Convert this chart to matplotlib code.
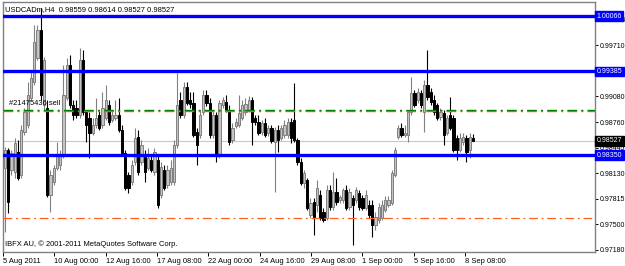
import matplotlib
matplotlib.use("Agg")
import matplotlib.pyplot as plt
import numpy as np

# USDCADm H4, 5 Aug - 8 Sep 2011
opens = [0.98192, 0.98415, 0.98168, 0.98143, 0.98390, 0.98106, 0.98637, 0.98723, 0.99057, 0.99254,
         0.99550, 0.99896, 0.98970, 0.98933, 0.97859, 0.98020, 0.98192, 0.98229, 0.98353, 0.99057,
         0.99464, 0.98970, 0.98933, 0.98847, 0.99526, 0.98884, 0.98810, 0.98624, 0.98723, 0.98847,
         0.98723, 0.98810, 0.98970, 0.98785, 0.98810, 0.98847, 0.98661, 0.98378, 0.98106, 0.98020,
         0.98266, 0.98575, 0.98266, 0.98353, 0.98192, 0.98291, 0.98143, 0.98291, 0.97859, 0.98168,
         0.97983, 0.98020, 0.98020, 0.98476, 0.99032, 0.98847, 0.99192, 0.99032, 0.98995, 0.98637,
         0.98600, 0.98884, 0.99094, 0.98995, 0.98600, 0.98847, 0.98353, 0.98970, 0.99007, 0.98908,
         0.98538, 0.98711, 0.98723, 0.98810, 0.98884, 0.98908, 0.99032, 0.98810, 0.98760, 0.98637,
         0.98748, 0.98624, 0.98686, 0.98513, 0.98661, 0.98563, 0.98600, 0.98600, 0.98760, 0.98785,
         0.98538, 0.98266, 0.98007, 0.98044, 0.97612, 0.97773, 0.97736, 0.97859, 0.97649, 0.97575,
         0.97921, 0.97711, 0.97896, 0.97797, 0.97797, 0.97921, 0.97711, 0.97822, 0.97797, 0.97884,
         0.97822, 0.97699, 0.97736, 0.97736, 0.97489, 0.97550, 0.97575, 0.97674, 0.97736, 0.97760,
         0.98106, 0.98575, 0.98686, 0.98600, 0.98600, 0.98884, 0.99118, 0.99032, 0.99118, 0.98884,
         0.99217, 0.99131, 0.99032, 0.98970, 0.98822, 0.98871, 0.98624, 0.98847, 0.98810, 0.98563,
         0.98415, 0.98513, 0.98563, 0.98415, 0.98559]
highs = [0.98452, 0.98439, 0.98415, 0.98563, 0.98538, 0.98723, 0.98933, 0.99254, 0.99402, 0.99958,
         0.99958, 1.00168, 0.99563, 0.99032, 0.98168, 0.98229, 0.98513, 0.98415, 0.99464, 0.99550,
         0.99587, 0.99032, 0.99032, 0.99674, 0.99649, 0.98908, 0.98884, 0.98810, 0.99057, 0.98908,
         0.99131, 0.99217, 0.99032, 0.98908, 0.99032, 0.99057, 0.98723, 0.98415, 0.98143, 0.98291,
         0.98686, 0.98661, 0.98538, 0.98415, 0.98439, 0.98353, 0.98439, 0.98353, 0.98266, 0.98229,
         0.98229, 0.98291, 0.98538, 0.99365, 0.99131, 0.99254, 0.99254, 0.99131, 0.99131, 0.98686,
         0.98908, 0.99155, 0.99155, 0.99057, 0.98908, 0.98884, 0.99032, 0.99069, 0.99094, 0.98970,
         0.98748, 0.98810, 0.99094, 0.99032, 0.99057, 0.99081, 0.99069, 0.98847, 0.98847, 0.98785,
         0.98810, 0.98723, 0.98723, 0.98699, 0.98723, 0.98723, 0.98785, 0.98810, 0.98810, 0.99242,
         0.98563, 0.98316, 0.98168, 0.98069, 0.97822, 0.97822, 0.98044, 0.97921, 0.97699, 0.97983,
         0.97983, 0.98143, 0.98069, 0.97859, 0.97945, 0.97983, 0.97945, 0.97859, 0.97958, 0.97921,
         0.97859, 0.97921, 0.97797, 0.97797, 0.97649, 0.97760, 0.97797, 0.97847, 0.97847, 0.98168,
         0.98452, 0.98723, 0.98748, 0.98723, 0.98908, 0.99316, 0.99155, 0.99180, 0.99155, 0.99279,
         0.99649, 0.99180, 0.99094, 0.98995, 0.98933, 0.98908, 0.98847, 0.99069, 0.98847, 0.98600,
         0.98624, 0.98624, 0.98600, 0.98624, 0.98614]
lows = [0.97402, 0.97637, 0.98106, 0.98069, 0.98044, 0.98069, 0.98600, 0.98686, 0.99032, 0.99217,
        0.99526, 0.99032, 0.98908, 0.97834, 0.97649, 0.97983, 0.98168, 0.98168, 0.98316, 0.99032,
        0.98933, 0.98785, 0.98810, 0.98810, 0.98847, 0.98513, 0.98316, 0.98600, 0.98686, 0.98661,
        0.98686, 0.98785, 0.98723, 0.98760, 0.98785, 0.98637, 0.98353, 0.97921, 0.97884, 0.97983,
        0.98229, 0.98106, 0.98229, 0.98020, 0.98168, 0.98143, 0.98106, 0.97699, 0.97822, 0.97921,
        0.97945, 0.97983, 0.97983, 0.98439, 0.98810, 0.98810, 0.98970, 0.98933, 0.98575, 0.98229,
        0.98563, 0.98847, 0.98958, 0.98563, 0.98563, 0.98266, 0.98316, 0.98933, 0.98884, 0.98476,
        0.98501, 0.98686, 0.98699, 0.98785, 0.98847, 0.98884, 0.98476, 0.98723, 0.98600, 0.98600,
        0.98575, 0.98587, 0.98501, 0.97896, 0.98390, 0.98538, 0.98563, 0.98563, 0.98501, 0.98513,
        0.98229, 0.97983, 0.97945, 0.97674, 0.97575, 0.97365, 0.97649, 0.97550, 0.97526, 0.97550,
        0.97674, 0.97674, 0.97736, 0.97760, 0.97760, 0.97674, 0.97674, 0.97242, 0.97760, 0.97674,
        0.97674, 0.97674, 0.97575, 0.97341, 0.97427, 0.97513, 0.97550, 0.97649, 0.97711, 0.97736,
        0.98081, 0.98550, 0.98575, 0.98575, 0.98513, 0.98847, 0.98945, 0.98995, 0.98933, 0.98637,
        0.99032, 0.98970, 0.98847, 0.98785, 0.98785, 0.98476, 0.98600, 0.98661, 0.98390, 0.98291,
        0.98390, 0.98476, 0.98266, 0.98316, 0.98527]
closes = [0.98415, 0.97773, 0.98378, 0.98501, 0.98069, 0.98661, 0.98884, 0.99094, 0.99303, 0.99748,
          0.99896, 0.99094, 0.99526, 0.97859, 0.98106, 0.98192, 0.98353, 0.98353, 0.99094, 0.99464,
          0.98970, 0.98847, 0.98847, 0.99526, 0.98884, 0.98723, 0.98624, 0.98723, 0.98810, 0.98686,
          0.98933, 0.99032, 0.98760, 0.98847, 0.98847, 0.98661, 0.98378, 0.97945, 0.97945, 0.98229,
          0.98563, 0.98143, 0.98476, 0.98143, 0.98316, 0.98168, 0.98390, 0.97736, 0.98205, 0.97945,
          0.98168, 0.98192, 0.98476, 0.98970, 0.98847, 0.99192, 0.98995, 0.98983, 0.98600, 0.98476,
          0.98847, 0.99094, 0.98995, 0.98600, 0.98847, 0.98353, 0.98995, 0.99032, 0.98908, 0.98513,
          0.98686, 0.98760, 0.98871, 0.98970, 0.98983, 0.99032, 0.98760, 0.98760, 0.98624, 0.98748,
          0.98600, 0.98686, 0.98526, 0.98661, 0.98538, 0.98686, 0.98723, 0.98760, 0.98563, 0.98538,
          0.98266, 0.98007, 0.98131, 0.97699, 0.97760, 0.97587, 0.97945, 0.97575, 0.97550, 0.97921,
          0.97711, 0.97896, 0.97773, 0.97834, 0.97921, 0.97699, 0.97896, 0.97736, 0.97921, 0.97711,
          0.97699, 0.97859, 0.97612, 0.97489, 0.97587, 0.97711, 0.97736, 0.97797, 0.97797, 0.98131,
          0.98415, 0.98686, 0.98600, 0.98624, 0.98884, 0.99118, 0.98970, 0.99131, 0.98970, 0.99217,
          0.99069, 0.99007, 0.98884, 0.98810, 0.98884, 0.98600, 0.98810, 0.98686, 0.98415, 0.98415,
          0.98563, 0.98575, 0.98390, 0.98575, 0.98527]

date_labels = ["5 Aug 2011", "10 Aug 00:00", "12 Aug 16:00", "17 Aug 08:00", "22 Aug 00:00",
               "24 Aug 16:00", "29 Aug 08:00", "1 Sep 00:00", "5 Sep 16:00", "8 Sep 08:00"]
price_ticks = [0.97180, 0.97500, 0.97815, 0.98130, 0.98445, 0.98760, 0.99080, 0.99395, 0.99710, 1.00025]
blue_levels = [1.00066, 0.99385, 0.98350]
sell_level = 0.98900
lower_level = 0.97580
bid = 0.98527

font = "Liberation Sans"
fs = 5.4
fs_y = 5.0

fig = plt.figure(figsize=(6.25, 2.66), dpi=100)
fig.patch.set_facecolor("white")
ax = fig.add_axes([3 / 625, 14 / 266, 592 / 625, 250 / 266])
ax.set_facecolor("white")

o = np.array(opens); h = np.array(highs); l = np.array(lows); c = np.array(closes)
x = np.arange(len(o))
up = c >= o

# horizontal levels
for lv in blue_levels:
    ax.axhline(lv, color="#0000ff", lw=2.4, zorder=4)
ax.axhline(bid, color="#c8c8c8", lw=0.8, zorder=1)
ax.axhline(sell_level, color="#ff6020", lw=1.0, ls=(0, (7, 3, 1.5, 3)), zorder=4)
ax.axhline(sell_level + 0.00004, color="#008000", lw=1.0, ls=(0, (7, 3, 1.5, 3)), zorder=4)
ax.axhline(lower_level, color="#ff6020", lw=0.9, ls=(0, (7, 3, 1.5, 3)), zorder=4)

# candles
ax.vlines(x[up], l[up], h[up], color="#808080", lw=0.8, zorder=2)
ax.vlines(x[~up], l[~up], h[~up], color="black", lw=0.8, zorder=2)
ax.bar(x[up], c[up] - o[up], bottom=o[up], width=0.62, color="#c4c4c4",
       edgecolor="#808080", linewidth=0.7, zorder=3)
ax.bar(x[~up], o[~up] - c[~up], bottom=c[~up], width=0.62, color="black",
       edgecolor="black", linewidth=0.7, zorder=3)

ax.set_xlim(-0.615, 181.54)
ax.set_ylim(0.97155, 1.00242)

# axes / ticks
for s in ax.spines.values():
    s.set_color("#808080")
    s.set_linewidth(1.0)
ax.yaxis.tick_right()
ax.set_yticks(price_ticks)
ax.set_yticklabels(["%.5f" % p for p in price_ticks], fontsize=fs_y, family=font)
ax.tick_params(axis="y", direction="out", length=2.5, width=0.7, pad=1.2, colors="black")
xt = -0.6 + 15.8 * np.arange(len(date_labels))
ax.set_xticks(xt)
ax.set_xticklabels(date_labels, fontsize=fs, family=font, ha="left")
ax.tick_params(axis="x", direction="out", length=3, width=0.7, pad=1.5, colors="black")

# boxed price labels on the right
tr = ax.get_yaxis_transform()
for lv in blue_levels:
    ax.text(1.003, lv, "%.5f" % lv, transform=tr, fontsize=fs_y, family=font, color="white",
            va="center", ha="left", clip_on=False, zorder=6,
            bbox=dict(boxstyle="square,pad=0.2", fc="#0000ff", ec="#0000ff"))
ax.text(1.003, bid, "%.5f" % bid, transform=tr, fontsize=fs_y, family=font, color="white",
        va="center", ha="left", clip_on=False, zorder=6,
        bbox=dict(boxstyle="square,pad=0.2", fc="black", ec="black"))

# texts
ax.text(0.004, 0.985, "USDCADm,H4  0.98559 0.98614 0.98527 0.98527", transform=ax.transAxes,
        fontsize=fs, family=font, va="top", ha="left", zorder=6)
ax.text(1.2, sell_level + 0.0004, "#21475436 sell", fontsize=fs, family=font,
        va="bottom", ha="left", zorder=6)
ax.text(0.004, 0.015, "IBFX AU, \u00a9 2001-2011 MetaQuotes Software Corp.", transform=ax.transAxes,
        fontsize=fs, family=font, va="bottom", ha="left", zorder=6)

fig.savefig("out.png", dpi=100, facecolor="white")
